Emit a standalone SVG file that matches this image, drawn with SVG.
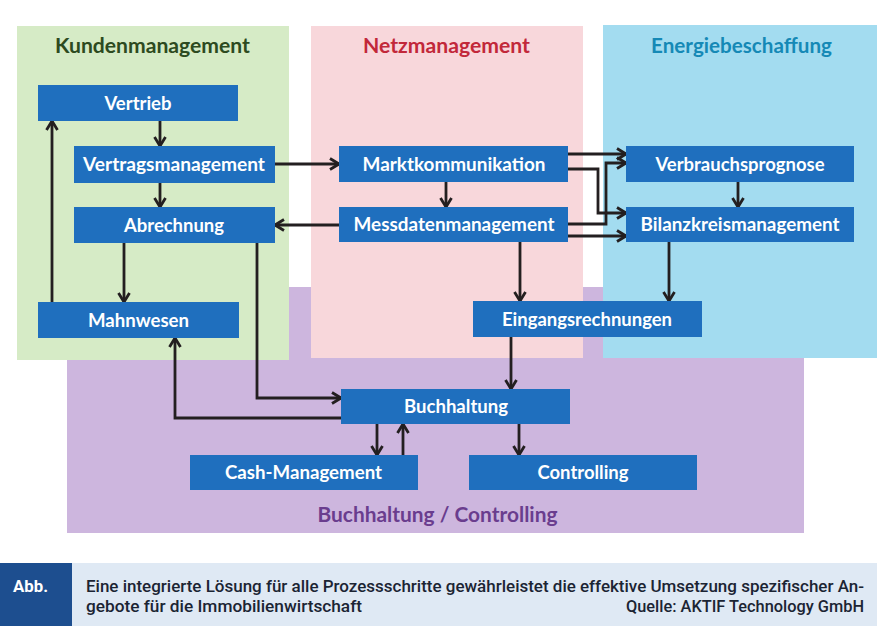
<svg xmlns="http://www.w3.org/2000/svg" width="877" height="626" viewBox="0 0 877 626">
<style>
.node rect{fill:#1f6fbe}
.node text{font-family:Lato,"Open Sans","Liberation Sans",sans-serif;font-weight:700;font-size:18px;fill:#ffffff;text-anchor:middle}
.title{font-family:Lato,"Open Sans","Liberation Sans",sans-serif;font-weight:700;font-size:20px;text-anchor:middle}
.conn path{fill:none;stroke:#231f20;stroke-width:2.8;marker-end:url(#arr)}
.cap{font-family:Roboto,"Liberation Sans",sans-serif;font-weight:500;font-size:17px;fill:#1b2433}
</style>
<defs>
<marker id="arr" markerUnits="userSpaceOnUse" markerWidth="14" markerHeight="14" viewBox="0 0 14 14" refX="12" refY="7" orient="auto">
<path d="M3,1.5 L12,7 L3,12.5" fill="none" stroke="#231f20" stroke-width="2.8"/>
</marker>
</defs>
<rect x="0" y="0" width="877" height="626" fill="#ffffff"/>
<g id="areas">
<rect x="67" y="287" width="737" height="246" fill="#cdb6de"/>
<rect x="17" y="26" width="272" height="334" fill="#d6ebc6"/>
<rect x="311" y="26" width="272" height="332" fill="#f8d7db"/>
<rect x="603" y="25" width="274" height="333" fill="#a3dcf0"/>
<text class="title" x="152.5" y="53" fill="#2d4a20" textLength="195" lengthAdjust="spacingAndGlyphs">Kundenmanagement</text>
<text class="title" x="446.5" y="53" fill="#c2283a" textLength="167" lengthAdjust="spacingAndGlyphs">Netzmanagement</text>
<text class="title" x="741.5" y="53" fill="#1589b6" textLength="181" lengthAdjust="spacingAndGlyphs">Energiebeschaffung</text>
<text class="title" x="437.5" y="522" fill="#6a3d8e" textLength="240" lengthAdjust="spacingAndGlyphs">Buchhaltung / Controlling</text>
</g>
<g id="connectors" class="conn">
<path d="M160,121 V146"/>
<path d="M160,183 V207"/>
<path d="M52,302 V121"/>
<path d="M124,243 V302"/>
<path d="M275,164 H339"/>
<path d="M446,182 V207"/>
<path d="M339,225 H275"/>
<path d="M520,242 V301"/>
<path d="M511,337 V389"/>
<path d="M257,243 V398 H341"/>
<path d="M341,418 H175 V338"/>
<path d="M377,424 V455"/>
<path d="M403,455 V424"/>
<path d="M519,424 V455"/>
<path d="M738,182 V207"/>
<path d="M669,242 V301"/>
<path d="M568,154 H626"/>
<path d="M568,169 H598 V213 H626"/>
<path d="M568,224 H606 V163 H626"/>
<path d="M568,236 H626"/>
</g>
<g id="vertrieb" class="node"><rect x="38" y="85" width="200" height="36"/><text x="138" y="109.5" textLength="67" lengthAdjust="spacingAndGlyphs">Vertrieb</text></g>
<g id="vertragsmanagement" class="node"><rect x="74" y="146" width="201" height="37"/><text x="174" y="171" textLength="182" lengthAdjust="spacingAndGlyphs">Vertragsmanagement</text></g>
<g id="abrechnung" class="node"><rect x="74" y="207" width="201" height="36"/><text x="174" y="231.5" textLength="100" lengthAdjust="spacingAndGlyphs">Abrechnung</text></g>
<g id="mahnwesen" class="node"><rect x="38" y="302" width="201" height="36"/><text x="138.5" y="326.5" textLength="101" lengthAdjust="spacingAndGlyphs">Mahnwesen</text></g>
<g id="marktkommunikation" class="node"><rect x="339" y="146" width="229" height="36"/><text x="454" y="170.5" textLength="183" lengthAdjust="spacingAndGlyphs">Marktkommunikation</text></g>
<g id="messdatenmanagement" class="node"><rect x="339" y="207" width="229" height="35"/><text x="454" y="231" textLength="201" lengthAdjust="spacingAndGlyphs">Messdatenmanagement</text></g>
<g id="verbrauchsprognose" class="node"><rect x="626" y="146" width="228" height="36"/><text x="740" y="170.5" textLength="169" lengthAdjust="spacingAndGlyphs">Verbrauchsprognose</text></g>
<g id="bilanzkreismanagement" class="node"><rect x="626" y="207" width="228" height="35"/><text x="740" y="231" textLength="199" lengthAdjust="spacingAndGlyphs">Bilanzkreismanagement</text></g>
<g id="eingangsrechnungen" class="node"><rect x="473" y="301" width="229" height="36"/><text x="587" y="325.5" textLength="170" lengthAdjust="spacingAndGlyphs">Eingangsrechnungen</text></g>
<g id="buchhaltung" class="node"><rect x="341" y="389" width="229" height="35"/><text x="456" y="413" textLength="104" lengthAdjust="spacingAndGlyphs">Buchhaltung</text></g>
<g id="cash-management" class="node"><rect x="190" y="455" width="228" height="35"/><text x="303.5" y="479" textLength="157" lengthAdjust="spacingAndGlyphs">Cash-Management</text></g>
<g id="controlling" class="node"><rect x="469" y="455" width="228" height="35"/><text x="583" y="479" textLength="91" lengthAdjust="spacingAndGlyphs">Controlling</text></g>
<g id="caption">
<rect x="0" y="563" width="877" height="63" fill="#dfe9f4"/>
<rect x="0" y="563" width="72" height="63" fill="#1d4e8f"/>
<text x="13" y="592" font-family="Roboto,'Liberation Sans',sans-serif" font-weight="700" font-size="17" fill="#ffffff" textLength="35" lengthAdjust="spacingAndGlyphs">Abb.</text>
<text class="cap" x="86" y="592" textLength="778" lengthAdjust="spacingAndGlyphs">Eine integrierte Lösung für alle Prozessschritte gewährleistet die effektive Umsetzung spezifischer An-</text>
<text class="cap" x="86" y="612" textLength="276" lengthAdjust="spacingAndGlyphs">gebote für die Immobilienwirtschaft</text>
<text class="cap" x="626" y="612" textLength="238" lengthAdjust="spacingAndGlyphs">Quelle: AKTIF Technology GmbH</text>
</g>
</svg>
